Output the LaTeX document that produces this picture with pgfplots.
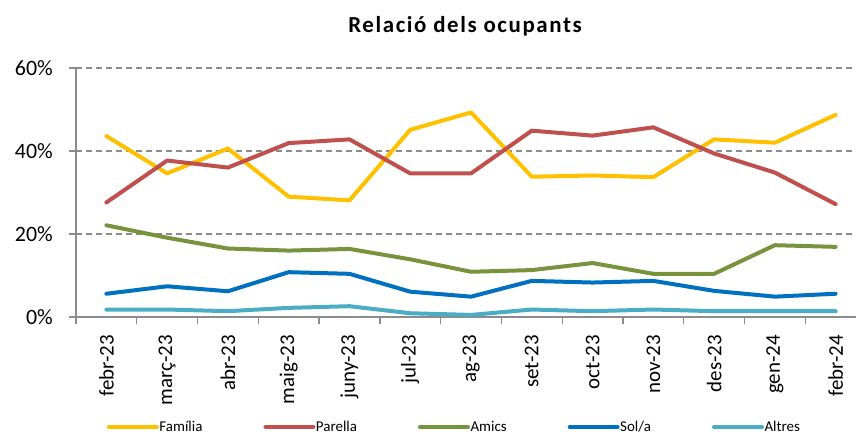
\documentclass[border=0pt]{standalone}
\usepackage{fontspec}
\setmainfont{Carlito}
\newfontfamily\titlefont[LetterSpace=7]{Carlito}
\usepackage{pgfplots}
\pgfplotsset{compat=1.18}
\definecolor{cFam}{HTML}{FFC000}
\definecolor{cPar}{HTML}{C0504D}
\definecolor{cAmi}{HTML}{77933C}
\definecolor{cSol}{HTML}{0070C0}
\definecolor{cAlt}{HTML}{4BACC6}
\definecolor{cGrid}{HTML}{8C8C8C}
\begin{document}
\begin{tikzpicture}[x=1bp,y=1bp]
\useasboundingbox (0,0) rectangle (856,434);
\node[font=\titlefont\bfseries\fontsize{23}{27}\selectfont, anchor=base] at (465,401) {Relació dels ocupants};
\begin{axis}[
  at={(76bp,117bp)}, anchor=south west,
  scale only axis, width=790bp, height=249bp,
  xmin=-0.5, xmax=12.5, ymin=0, ymax=60,
  axis x line=bottom, axis y line=left,
  axis line style={-, draw=cGrid, line width=1.3bp},
  xtick={-0.5,0.5,...,12.5},
  x tick label as interval,
  xticklabels={febr-23,març-23,abr-23,maig-23,juny-23,jul-23,ag-23,set-23,oct-23,nov-23,des-23,gen-24,febr-24},
  xticklabel style={yshift=-11bp, rotate=90, anchor=east, font=\fontsize{21}{24}\selectfont, inner sep=0pt},
  ytick={0,20,40,60},
  yticklabels={0\%,20\%,40\%,60\%},
  yticklabel style={xshift=-16bp, font=\fontsize{22}{26}\selectfont, inner sep=0pt},
  tick align=outside,
  major tick length=7bp,
  tick style={draw=cGrid, line width=1.3bp},
  ymajorgrids,
  grid style={draw=cGrid, line width=1.3bp, dash pattern=on 6bp off 4bp},
  clip=false,
  every axis plot/.append style={line width=4bp, line cap=round, line join=round},
  legend columns=5,
  legend style={at={(axis description cs:0.0392,-0.4418)}, anchor=west, draw=none, fill=none,
    inner sep=0pt, outer sep=0pt,
    nodes={inner sep=0pt, font=\fontsize{15}{18}\selectfont},
    /tikz/every odd column/.append style={column sep=0.5bp},
    /tikz/every even column/.append style={column sep=61bp}},
  legend image code/.code={\draw[#1] (0bp,0bp) -- (48bp,0bp);},
]
\addplot[cFam] coordinates {(0,43.6)(1,34.6)(2,40.6)(3,29.0)(4,28.1)(5,45.1)(6,49.3)(7,33.8)(8,34.1)(9,33.7)(10,42.8)(11,42.0)(12,48.7)};
\addlegendentry{Família}
\addplot[cPar] coordinates {(0,27.6)(1,37.7)(2,36.0)(3,41.9)(4,42.8)(5,34.6)(6,34.6)(7,44.9)(8,43.7)(9,45.7)(10,39.4)(11,34.8)(12,27.2)};
\addlegendentry{Parella}
\addplot[cAmi] coordinates {(0,22.1)(1,19.1)(2,16.5)(3,16.0)(4,16.4)(5,13.9)(6,10.9)(7,11.3)(8,13.0)(9,10.4)(10,10.4)(11,17.3)(12,16.9)};
\addlegendentry{Amics}
\addplot[cSol] coordinates {(0,5.6)(1,7.4)(2,6.2)(3,10.8)(4,10.4)(5,6.1)(6,4.9)(7,8.7)(8,8.3)(9,8.7)(10,6.3)(11,4.9)(12,5.6)};
\addlegendentry{Sol/a}
\addplot[cAlt] coordinates {(0,1.8)(1,1.8)(2,1.4)(3,2.2)(4,2.6)(5,0.9)(6,0.5)(7,1.8)(8,1.4)(9,1.8)(10,1.4)(11,1.4)(12,1.4)};
\addlegendentry{Altres}
\end{axis}
\end{tikzpicture}
\end{document}
